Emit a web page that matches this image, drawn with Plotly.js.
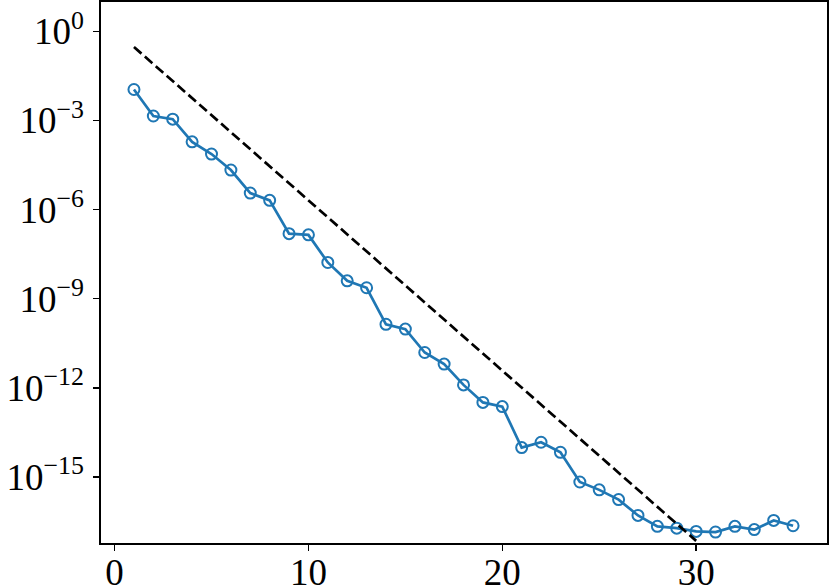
<!DOCTYPE html>
<html>
<head>
<meta charset="utf-8">
<script src="https://cdn.plot.ly/plotly-3.0.1.min.js"></script>
<style>
  html, body { margin: 0; padding: 0; background: #fff; }
  #plot { width: 830px; height: 586px; }
</style>
</head>
<body>
<div id="plot"></div>
<script>
// error per iteration
var nIter = [1, 2, 3, 4, 5, 6, 7, 8, 9, 10, 11, 12, 13, 14, 15, 16, 17, 18,
             19, 20, 21, 22, 23, 24, 25, 26, 27, 28, 29, 30, 31, 32, 33, 34, 35];
var errVals = [1.1e-2, 1.41e-3, 1.1e-3, 1.9e-4, 7.4e-5, 2.14e-5, 3.6e-6, 2.04e-6,
               1.55e-7, 1.41e-7, 1.66e-8, 4.0e-9, 2.34e-9, 1.38e-10, 9.5e-11,
               1.55e-11, 6.3e-12, 1.26e-12, 3.24e-13, 2.34e-13, 9.8e-15, 1.48e-14,
               6.8e-15, 6.8e-16, 3.7e-16, 1.74e-16, 5.1e-17, 2.19e-17, 1.9e-17,
               1.48e-17, 1.41e-17, 2.19e-17, 1.7e-17, 3.47e-17, 2.29e-17];

// reference rate (dashed), end points
var rateX = [1, 30];
var rateY = [2.95e-1, 7.1e-18];

var yTickVals = [1, 1e-3, 1e-6, 1e-9, 1e-12, 1e-15];
var yTickText = ['10<sup>0</sup>', '10<sup>\u22123</sup>', '10<sup>\u22126</sup>',
                 '10<sup>\u22129</sup>', '10<sup>\u221212</sup>', '10<sup>\u221215</sup>'];
var xTickVals = [0, 10, 20, 30];

var errTrace = {
  x: nIter,
  y: errVals,
  mode: 'lines+markers',
  line: {color: '#1f77b4', width: 2.7},
  marker: {symbol: 'circle-open', size: 11, color: '#1f77b4', line: {width: 2, color: '#1f77b4'}},
  showlegend: false
};
var rateTrace = {
  x: rateX,
  y: rateY,
  mode: 'lines',
  line: {color: 'black', width: 2.7, dash: '10px,4.5px'},
  showlegend: false
};

var serif = 'Liberation Serif';

var layout = {
  width: 830,
  height: 586,
  margin: {l: 101, r: 3, t: 2, b: 43},
  paper_bgcolor: 'white',
  plot_bgcolor: 'white',
  font: {family: serif, size: 37, color: 'black'},
  xaxis: {
    range: [-0.7, 36.75],
    tickvals: xTickVals,
    ticks: 'outside', ticklen: 6, tickwidth: 1.5, tickcolor: 'black',
    ticklabelstandoff: -10,
    showgrid: false, zeroline: false,
    showline: true, linecolor: 'black', linewidth: 1.6, mirror: true,
    tickfont: {family: serif, size: 37, color: 'black'}
  },
  yaxis: {
    type: 'log',
    range: [-17.22, 0.985],
    tickvals: yTickVals,
    ticktext: yTickText,
    ticks: 'outside', ticklen: 6, tickwidth: 1.5, tickcolor: 'black',
    ticklabelstandoff: 2,
    ticklabeloverflow: 'allow',
    showgrid: false, zeroline: false,
    showline: true, linecolor: 'black', linewidth: 1.6, mirror: true,
    tickfont: {family: serif, size: 37, color: 'black'}
  }
};

Plotly.newPlot('plot', [errTrace, rateTrace], layout, {staticPlot: true});
</script>
</body>
</html>
